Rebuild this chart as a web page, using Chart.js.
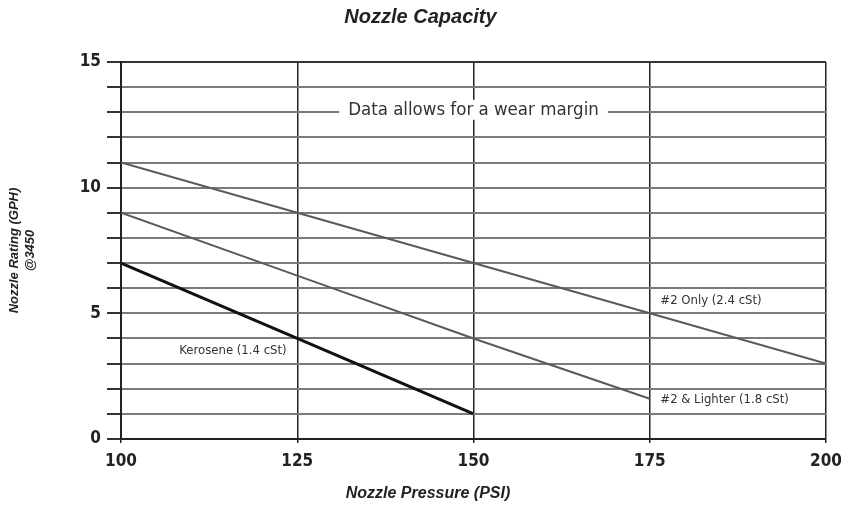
<!DOCTYPE html>
<html>
<head>
<meta charset="utf-8">
<script src="https://cdn.jsdelivr.net/npm/chart.js@4.4.1/dist/chart.umd.min.js"></script>
<style>
  body { margin: 0; background: #fff; }
  #wrap { width: 841px; height: 510px; }
</style>
</head>
<body>
<div id="wrap"><canvas id="nozzleChart"></canvas></div>
<script>
const pressures = [100, 125, 150, 175, 200];
const no2Only = [11, 9, 7, 5, 3];
const no2Lighter = [9, 6.5, 4, 1.6, null];
const kerosene = [7, 4, 1, null, null];

const yTickLabels = [0, 5, 10, 15];

const seriesLabels = [
    { text: 'Kerosene (1.4 cSt)', x: 123.5, y: 3.5, align: 'right' },
    { text: '#2 Only (2.4 cSt)', x: 176.5, y: 5.5, align: 'left' },
    { text: '#2 & Lighter (1.8 cSt)', x: 176.5, y: 1.55, align: 'left' }
];
const wearNote = { text: 'Data allows for a wear margin', x: 150, y: 13.1 };

const narrow = '"DejaVu Sans Condensed", "Liberation Sans", Arial, sans-serif';
const heading = '"Liberation Sans", Arial, sans-serif';

function toPoints(values) {
    return pressures.map((p, i) => ({ x: p, y: values[i] })).filter(pt => pt.y !== null);
}

const notesPlugin = {
    id: 'notes',
    afterDraw(chart) {
        const ctx = chart.ctx;
        const xs = chart.scales.x;
        const ys = chart.scales.y;
        ctx.save();

        // wear margin note, white box over the grid line
        ctx.font = '18.5px ' + narrow;
        ctx.textAlign = 'center';
        ctx.textBaseline = 'middle';
        let px = xs.getPixelForValue(wearNote.x);
        let py = ys.getPixelForValue(wearNote.y);
        let w = ctx.measureText(wearNote.text).width;
        ctx.fillStyle = '#fff';
        ctx.fillRect(px - w / 2 - 9, py - 10, w + 18, 20);
        ctx.fillStyle = '#333';
        ctx.fillText(wearNote.text, px, py);

        // line labels
        ctx.font = '13px ' + narrow;
        seriesLabels.forEach(l => {
            ctx.textAlign = l.align;
            ctx.fillText(l.text, xs.getPixelForValue(l.x), ys.getPixelForValue(l.y));
        });

        // x axis title
        ctx.font = 'italic bold 16px ' + heading;
        ctx.textAlign = 'center';
        ctx.fillStyle = '#222';
        ctx.fillText('Nozzle Pressure (PSI)', 428, 494);
        ctx.restore();
    }
};

let ctx = document.getElementById('nozzleChart').getContext('2d');

new Chart(ctx, {
    type: 'line',
    data: {
        datasets: [{
            label: '#2 Only (2.4 cSt)',
            data: toPoints(no2Only),
            borderColor: '#5a5a5a',
            borderWidth: 2
        }, {
            label: '#2 & Lighter (1.8 cSt)',
            data: toPoints(no2Lighter),
            borderColor: '#5a5a5a',
            borderWidth: 2
        }, {
            label: 'Kerosene (1.4 cSt)',
            data: toPoints(kerosene),
            borderColor: '#111',
            borderWidth: 3
        }]
    },
    plugins: [notesPlugin],
    options: {
        responsive: true,
        maintainAspectRatio: false,
        animation: false,
        layout: { padding: { top: 0, right: 0, bottom: 0, left: 0 } },
        elements: { point: { radius: 0 }, line: { tension: 0 } },
        plugins: {
            legend: { display: false },
            tooltip: { enabled: false },
            title: {
                display: true,
                text: 'Nozzle Capacity',
                color: '#222',
                font: { family: heading, size: 20, style: 'italic', weight: 'bold' },
                padding: { top: 5, bottom: 33 }
            }
        },
        scales: {
            x: {
                type: 'linear',
                min: 100,
                max: 200,
                afterFit: s => {
                    s.height = 71;
                    s.paddingRight = 15;
                    s.paddingLeft = 0;
                },
                ticks: {
                    stepSize: 25,
                    color: '#222',
                    padding: 8,
                    font: { family: narrow, size: 17, weight: 'bold' }
                },
                grid: { color: '#222', lineWidth: 1.5, tickLength: 4, tickColor: '#222' },
                border: { color: '#222', width: 2 }
            },
            y: {
                min: 0,
                max: 15,
                afterFit: s => { s.width = 121; },
                ticks: {
                    stepSize: 1,
                    color: '#222',
                    padding: 6,
                    font: { family: narrow, size: 17, weight: 'bold' },
                    callback: v => yTickLabels.includes(v) ? v : ''
                },
                grid: {
                    color: c => c.tick && c.tick.value === 15 ? '#333' : '#7a7a7a',
                    lineWidth: 2,
                    tickLength: 14,
                    tickColor: '#333'
                },
                border: { color: '#222', width: 2 },
                title: {
                    display: true,
                    text: ['Nozzle Rating (GPH)', '@3450'],
                    color: '#222',
                    font: { family: heading, size: 13, style: 'italic', weight: 'bold' },
                    padding: { top: 7, bottom: 0 }
                }
            }
        }
    }
});
</script>
</body>
</html>
